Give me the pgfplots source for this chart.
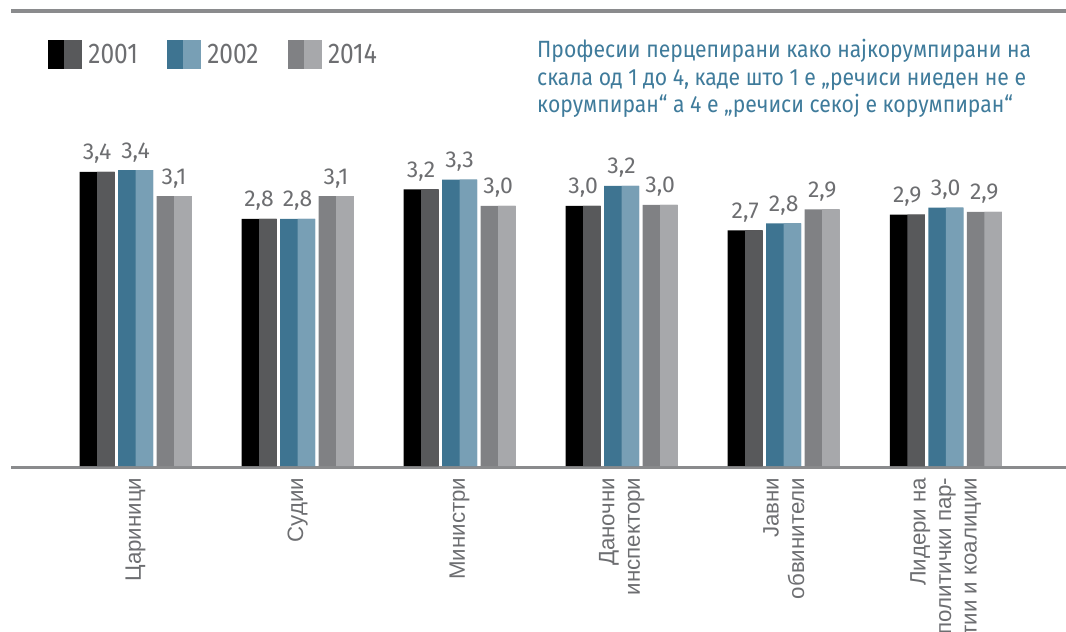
\documentclass[border=0pt]{standalone}
\usepackage{fontspec}
\usepackage{pgfplots}
\usepackage{pgfplotstable}
\pgfplotsset{compat=1.18}
\setmainfont{Fira Sans}
\newfontfamily\valfont{Fira Sans}[FakeStretch=1.0]
\newfontfamily\legfont{Fira Sans}[FakeStretch=0.86]
\newfontfamily\titfont{Fira Sans}[FakeStretch=0.9]
\newfontfamily\arialfont{Liberation Sans}
\definecolor{c1a}{HTML}{000000}
\definecolor{c1b}{HTML}{58595B}
\definecolor{c2a}{HTML}{3E7491}
\definecolor{c2b}{HTML}{789FB5}
\definecolor{c3a}{HTML}{808184}
\definecolor{c3b}{HTML}{A7A8AB}
\definecolor{txtgray}{HTML}{6D6E71}
\definecolor{titblue}{HTML}{3F7B9B}
\definecolor{linegray}{HTML}{8A8B8D}
\pgfplotstableread{
x a la b lb c lc
0 3.37 3,4 3.39 3,4 3.09 3,1
1 2.83 2,8 2.83 2,8 3.09 3,1
2 3.17 3,2 3.28 3,3 2.98 3,0
3 2.98 3,0 3.21 3,2 2.99 3,0
4 2.70 2,7 2.78 2,8 2.94 2,9
5 2.88 2,9 2.96 3,0 2.91 2,9
}\datatable
\begin{document}
\begin{tikzpicture}
\path[use as bounding box] (0pt,0pt) rectangle (1066pt,632pt);
\draw[linegray, line width=3.3pt] (11pt,621pt) -- (1066pt,621pt);
\begin{axis}[
  at={(11pt,164.5pt)}, anchor=south west,
  scale only axis, width=1055pt, height=367.5pt,
  xmin=-0.7683, xmax=5.742, ymin=-0.01718, ymax=4.1924,
  ybar,
  axis x line=bottom, axis y line=none,
  x axis line style={draw=linegray, line width=3.3pt, -},
  xtick={0,1,2,3,4,5},
  xticklabels={Цариници, Судии, Министри, {Даночни\\инспектори}, {Јавни\\обвинители}, {Лидери на\\политички пар-\\тии и коалиции}},
  major tick length=0pt,
  xticklabel shift=10pt,
  xticklabel style={rotate=90, anchor=east, align=right, inner sep=0pt,
    font=\arialfont\fontsize{22.3}{25.5}\selectfont, text=txtgray},
  ytick=\empty,
  clip=false,
  nodes near coords style={anchor=base, yshift=12pt, inner sep=0pt,
    font=\valfont\fontsize{23}{25}\selectfont, text=txtgray},
  legend style={at={(0.03507,1.1633)}, anchor=north west, draw=none, fill=none,
    inner sep=0pt, outer sep=0pt, legend columns=3,
    font=\legfont\fontsize{28.5}{30}\selectfont, text=txtgray,
    nodes={inner sep=0pt},
    /tikz/every odd column/.append style={column sep=7pt},
    /tikz/every even column/.append style={column sep=29pt}},
  legend cell align=left,
]
\addlegendimage{legend image code/.code={\fill[c1a] (0pt,-14pt) rectangle (16.5pt,14pt); \fill[c1b] (16.5pt,-14pt) rectangle (33pt,14pt);}}
\addlegendentry{2001}
\addlegendimage{legend image code/.code={\fill[c2a] (0pt,-14pt) rectangle (16.5pt,14pt); \fill[c2b] (16.5pt,-14pt) rectangle (33pt,14pt);}}
\addlegendentry{2002}
\addlegendimage{legend image code/.code={\fill[c3a] (0pt,-14pt) rectangle (16.5pt,14pt); \fill[c3b] (16.5pt,-14pt) rectangle (33pt,14pt);}}
\addlegendentry{2014}
\addplot[fill=c1a, draw=none, bar width=35pt, bar shift=-38.5pt, forget plot,
  nodes near coords, point meta=explicit symbolic] table[x=x, y=a, meta=la] {\datatable};
\addplot[fill=c1b, draw=none, bar width=17.5pt, bar shift=-29.75pt, forget plot] table[x=x, y=a] {\datatable};
\addplot[fill=c2a, draw=none, bar width=35pt, bar shift=0pt, forget plot,
  nodes near coords, point meta=explicit symbolic] table[x=x, y=b, meta=lb] {\datatable};
\addplot[fill=c2b, draw=none, bar width=17.5pt, bar shift=8.75pt, forget plot] table[x=x, y=b] {\datatable};
\addplot[fill=c3a, draw=none, bar width=35pt, bar shift=38.5pt, forget plot,
  nodes near coords, point meta=explicit symbolic] table[x=x, y=c, meta=lc] {\datatable};
\addplot[fill=c3b, draw=none, bar width=17.5pt, bar shift=47.25pt, forget plot] table[x=x, y=c] {\datatable};
\end{axis}
\node[anchor=base west, align=left, inner sep=0pt, text=titblue,
  font=\titfont\fontsize{23.5}{27.5}\selectfont] at (537pt,519pt)
  {Професии перцепирани како најкорумпирани на\\скала од 1 до 4, каде што 1 е „речиси ниеден не е\\корумпиран“ а 4 е „речиси секој е корумпиран“};
\end{tikzpicture}
\end{document}
